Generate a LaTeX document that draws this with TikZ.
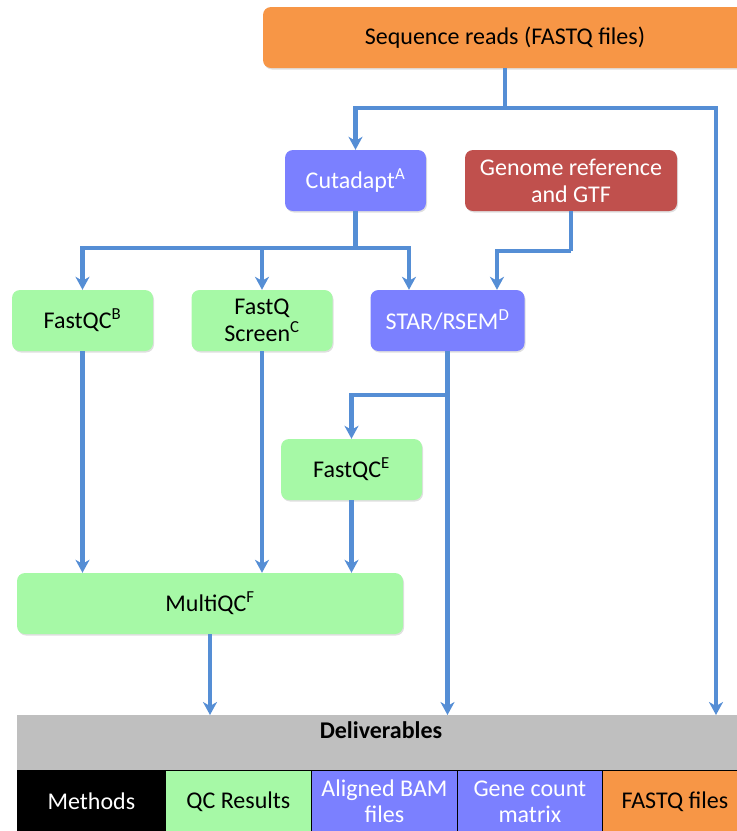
\documentclass[tikz,border=0pt]{standalone}
\usepackage{fontspec}
\setmainfont{Carlito}
\usetikzlibrary{arrows.meta,shadows,calc}
\definecolor{cOrange}{HTML}{F79646}
\definecolor{cBlue}{HTML}{7B80FF}
\definecolor{cRed}{HTML}{C0504D}
\definecolor{cGreen}{HTML}{A6F9A6}
\definecolor{cGray}{HTML}{BFBFBF}
\definecolor{cLine}{HTML}{558ED5}
\tikzset{
  box/.style={rounded corners=8pt, inner sep=2pt, align=center,
    font=\fontsize{24}{27}\selectfont,
    drop shadow={shadow xshift=1pt, shadow yshift=-1.5pt, opacity=0.25}},
  orangebox/.style={box, fill=cOrange, text=black},
  bluebox/.style={box, fill=cBlue, text=white},
  redbox/.style={box, fill=cRed, text=white},
  greenbox/.style={box, fill=cGreen, text=black},
  conn/.style={draw=cLine, line width=4.5pt},
  arr/.style={conn, -{Stealth[length=13pt, width=14pt, inset=4pt]}},
  cell/.style={draw=black, line width=0.8pt, inner sep=2pt, align=center,
    font=\fontsize{24}{26}\selectfont, minimum height=62pt},
}
\begin{document}
\begin{tikzpicture}[x=1pt,y=-1pt]
\useasboundingbox (0,0) rectangle (737,831);
\begin{scope}
\clip (0,0) rectangle (737,831);
% nodes
\node[orangebox, minimum width=484pt, minimum height=61pt] (seq) at (505,37.5) {Sequence reads (FASTQ files)};
\node[bluebox, minimum width=141pt, minimum height=61pt] (cut) at (355.5,180.5) {Cutadapt\textsuperscript{A}};
\node[redbox, minimum width=212pt, minimum height=61pt] (gen) at (571,180.5) {Genome reference\\and GTF};
\node[greenbox, minimum width=141pt, minimum height=61pt] (fqb) at (82.5,320.5) {FastQC\textsuperscript{B}};
\node[greenbox, minimum width=141pt, minimum height=61pt] (fqs) at (262,320.5) {FastQ\\Screen\textsuperscript{C}};
\node[bluebox, minimum width=154pt, minimum height=61pt] (star) at (447.5,320.5) {STAR/RSEM\textsuperscript{D}};
\node[greenbox, minimum width=141pt, minimum height=61pt] (fqe) at (351.5,469.5) {FastQC\textsuperscript{E}};
\node[greenbox, minimum width=386pt, minimum height=61pt] (mqc) at (210,603.5) {MultiQC\textsuperscript{F}};
% deliverables
\node[fill=cGray, minimum width=740pt, minimum height=55pt, anchor=north west, inner sep=0pt] (deliv) at (17,715) {};
\node[font=\fontsize{24}{27}\selectfont\bfseries] (dlab) at (381,730) {Deliverables};
\node[cell, fill=black, text=white, minimum width=148pt, anchor=north west] (c1) at (17,770) {Methods};
\node[cell, fill=cGreen, text=black, minimum width=146pt, anchor=north west] (c2) at (165,770) {QC Results};
\node[cell, fill=cBlue, text=white, minimum width=146pt, anchor=north west] (c3) at (311,770) {Aligned BAM\\files};
\node[cell, fill=cBlue, text=white, minimum width=145pt, anchor=north west] (c4) at (457,770) {Gene count\\matrix};
\node[cell, fill=cOrange, text=black, minimum width=145pt, anchor=north west] (c5) at (602,770) {FASTQ files};
% coordinates
\coordinate (j1) at (505,108);
\coordinate (j2) at (355.5,248);
\coordinate (j3) at (571,251);
\coordinate (j4) at (447.5,395);
\coordinate (d1) at (210,715);
\coordinate (d2) at (447.5,715);
\coordinate (d3) at (716,715);
\coordinate (sin1) at ([xshift=-38.5pt]star.north);
\coordinate (sin2) at ([xshift=49.5pt]star.north);
% connectors
\draw[conn] (seq.south) -- (j1);
\draw[arr] (j1) -| (cut.north);
\draw[arr] (j1) -| (d3);
\draw[conn] (cut.south) -- (j2);
\draw[arr] (j2) -| (fqb.north);
\draw[arr] (j2) -| (fqs.north);
\draw[arr] (j2) -| (sin1);
\draw[conn] (gen.south) -- (j3);
\draw[arr] (j3) -| (sin2);
\draw[arr] (star.south) -- (d2);
\draw[arr] (j4) -| (fqe.north);
\draw[arr] (fqb.south) -- (fqb.south |- mqc.north);
\draw[arr] (fqs.south) -- (fqs.south |- mqc.north);
\draw[arr] (fqe.south) -- (fqe.south |- mqc.north);
\draw[arr] (mqc.south) -- (d1);
\end{scope}
\end{tikzpicture}
\end{document}
